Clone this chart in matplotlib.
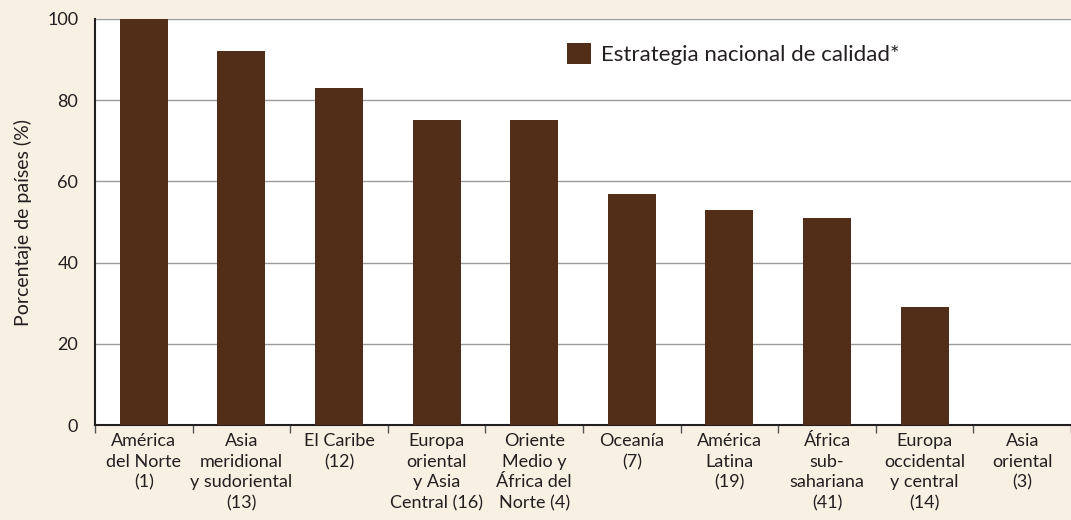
import matplotlib
matplotlib.use("Agg")
import matplotlib.pyplot as plt
import numpy as np

categories = ["América\ndel Norte\n(1)", "Asia\nmeridional\ny sudoriental\n(13)", "El Caribe\n(12)",
              "Europa\noriental\ny Asia\nCentral (16)", "Oriente\nMedio y\nÁfrica del\nNorte (4)",
              "Oceanía\n(7)", "América\nLatina\n(19)", "África\nsub-\nsahariana\n(41)",
              "Europa\noccidental\ny central\n(14)", "Asia\noriental\n(3)"]
values = [100, 92, 83, 75, 75, 57, 53, 51, 29, 0]
series_name = "Estrategia nacional de calidad*"
yticks = [0, 20, 40, 60, 80, 100]

plt.rcParams['font.family'] = ['Lato', 'DejaVu Sans']
bg = "#F9F0E4"
bar_color = "#522E18"
text_color = "#231F20"

fig = plt.figure(figsize=(10.71, 5.2), dpi=100, facecolor=bg)
ax = fig.add_axes([95/1071, 95/520, (1071-95)/1071, (425-19)/520])
ax.set_facecolor("white")

x = np.arange(len(categories))
ax.bar(x, values, width=0.49, color=bar_color, label=series_name, zorder=3)
ax.set_xlim(-0.5, len(categories) - 0.5)
ax.set_ylim(0, 100)
ax.set_yticks(yticks)
ax.set_yticklabels([str(t) for t in yticks], fontsize=13, color=text_color)
ax.yaxis.grid(True, color="#9B9B9B", linewidth=1.0, zorder=0)
ax.tick_params(axis='y', length=0, pad=12)

ax.set_xticks(x)
ax.set_xticklabels(categories, fontsize=13, color=text_color, linespacing=1.35, va='top')
ax.tick_params(axis='x', length=0, pad=6)
ax.set_xticks(np.arange(-0.5, len(categories), 1), minor=True)
ax.tick_params(axis='x', which='minor', length=6, width=1, color="#555555", direction='out')

for s in ['top', 'right']:
    ax.spines[s].set_visible(False)
ax.spines['left'].set_color("#231F20")
ax.spines['left'].set_linewidth(1.5)
ax.spines['bottom'].set_color("#231F20")
ax.spines['bottom'].set_linewidth(1.5)

ax.set_ylabel("Porcentaje de países (%)", fontsize=14, color=text_color)
ax.yaxis.set_label_coords(-63/976, 0.5)

leg = ax.legend(loc='upper left', bbox_to_anchor=(452/976, 0.99), frameon=False,
                fontsize=16, handlelength=1.1, handleheight=1.1, handletextpad=0.45)
for t in leg.get_texts():
    t.set_color(text_color)

fig.savefig("out.png", dpi=100, facecolor=bg)
